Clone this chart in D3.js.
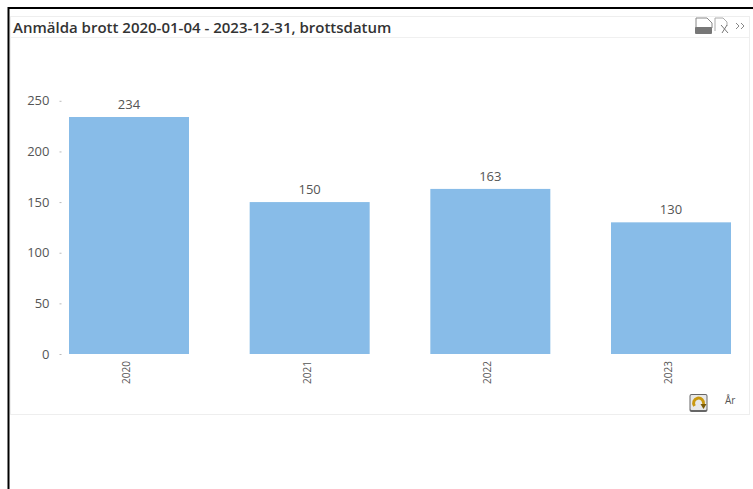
<!DOCTYPE html>
<html>
<head>
<meta charset="utf-8">
<script src="https://cdn.jsdelivr.net/npm/d3@7"></script>
<style>
html, body { margin: 0; padding: 0; background: #fff; overflow: hidden; }
text { font-family: "Open Sans", sans-serif; }
</style>
</head>
<body>
<svg id="chart" width="753" height="489"></svg>
<script>
var years = ['2020', '2021', '2022', '2023'];
var counts = [234, 150, 163, 130];
var yTicks = [0, 50, 100, 150, 200, 250];
var titleText = 'Anmälda brott 2020-01-04 - 2023-12-31, brottsdatum';
var dimensionLabel = 'År';

var svg = d3.select('#chart');

// screenshot frame
svg.append('path').attr('d', 'M8.5,489V8H753').attr('fill', 'none').attr('stroke', '#000').attr('stroke-width', 2);

// object box + caption
svg.append('rect').attr('x', 10.5).attr('y', 16.5).attr('width', 739).attr('height', 398)
    .attr('fill', '#fff').attr('stroke', '#eeeeee');
svg.append('line').attr('x1', 11).attr('x2', 749).attr('y1', 37.5).attr('y2', 37.5).attr('stroke', '#f0f0f0');
svg.append('text').attr('x', 13).attr('y', 33).attr('font-size', 15).attr('font-weight', 600)
    .attr('fill', '#333').text(titleText);

var x = d3.scaleBand().domain(years).range([69, 731]).paddingInner(0.3358).paddingOuter(0);
var y = d3.scaleLinear().domain([0, 250]).range([354, 100.8]);

var yAxis = svg.append('g').attr('transform', 'translate(61.5,0)')
    .call(d3.axisLeft(y).tickValues(yTicks).tickSize(2).tickPadding(10));
yAxis.select('.domain').remove();
yAxis.selectAll('line').attr('stroke', '#bbb');
yAxis.selectAll('text').attr('font-size', 13).attr('fill', '#555').attr('font-family', '"Open Sans", sans-serif');

svg.append('g').selectAll('rect').data(years).enter().append('rect')
    .attr('x', function (d) { return x(d); })
    .attr('y', function (d, i) { return y(counts[i]); })
    .attr('width', x.bandwidth())
    .attr('height', function (d, i) { return y(0) - y(counts[i]); })
    .attr('fill', '#88bce8');

svg.append('g').selectAll('text').data(years).enter().append('text')
    .attr('x', function (d) { return x(d) + x.bandwidth() / 2; })
    .attr('y', function (d, i) { return y(counts[i]) - 8; })
    .attr('text-anchor', 'middle').attr('font-size', 13).attr('fill', '#555')
    .text(function (d, i) { return counts[i]; });

var xAxis = svg.append('g').attr('transform', 'translate(0,354)')
    .call(d3.axisBottom(x).tickSize(0).tickPadding(0));
xAxis.select('.domain').remove();
xAxis.selectAll('text')
    .attr('font-size', 10).attr('fill', '#555').attr('font-family', '"Open Sans", sans-serif')
    .attr('text-anchor', 'end').attr('dy', 0)
    .attr('transform', function () { return 'translate(1,7) rotate(-90)'; });

svg.append('text').attr('x', 725).attr('y', 404).attr('font-size', 10).attr('fill', '#555').text(dimensionLabel);

// caption icons
var icons = svg.append('g');
icons.append('path').attr('d', 'M696,18H707L712,23V28H696Z').attr('fill', '#fff').attr('stroke', '#888');
icons.append('rect').attr('x', 695).attr('y', 27).attr('width', 17).attr('height', 7).attr('rx', 1).attr('fill', '#777');
icons.append('path').attr('d', 'M715,31V18H723L727,22V26').attr('fill', 'none').attr('stroke', '#aaa');
icons.append('path').attr('d', 'M721,25L728,33M727,25L722,33').attr('fill', 'none').attr('stroke', '#777');
icons.append('path').attr('d', 'M736,23L739,26L736,29M741,23L744,26L741,29').attr('fill', 'none').attr('stroke', '#888');

// cycle icon
var cycle = svg.append('g').attr('transform', 'translate(698.5,403)');
cycle.append('rect').attr('x', -9).attr('y', -9).attr('width', 18).attr('height', 18).attr('rx', 2).attr('fill', '#666');
cycle.append('rect').attr('x', -8).attr('y', -8).attr('width', 16).attr('height', 15).attr('rx', 1).attr('fill', '#e8e8e8');
cycle.append('path').attr('d', 'M-4,3A5,5 0 1 1 5,1').attr('fill', 'none').attr('stroke', '#c9980f').attr('stroke-width', 3);
cycle.append('path').attr('d', 'M2,1H8L5,6Z').attr('fill', '#7a5c08');
</script>
</body>
</html>
